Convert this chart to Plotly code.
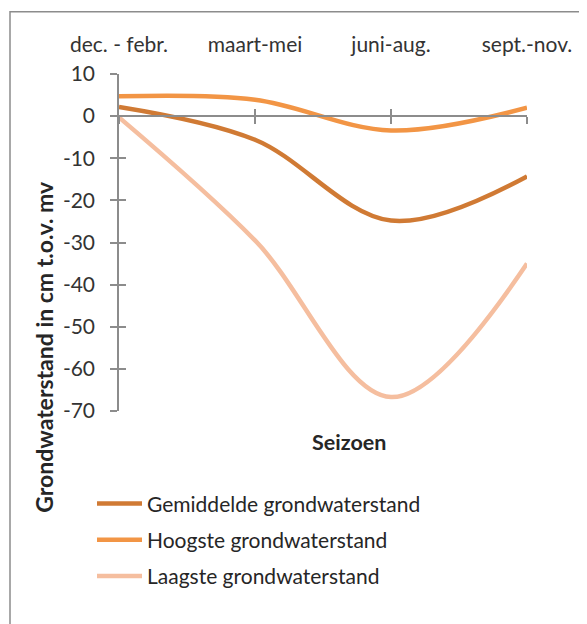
import plotly.graph_objects as go

seasons = ["dec. - febr.", "maart-mei", "juni-aug.", "sept.-nov."]
gemiddelde = [2.2, -5.6, -24.8, -14.3]
hoogste = [4.7, 3.9, -3.4, 2.0]
laagste = [-0.3, -29.5, -66.7, -35.0]
series_names = ["Gemiddelde grondwaterstand", "Hoogste grondwaterstand", "Laagste grondwaterstand"]
series_colors = ["#D07A34", "#F29545", "#F5BE9F"]
y_ticks = [10, 0, -10, -20, -30, -40, -50, -60, -70]
y_ticktext = ["10", "0", "-10", "-20", "-30", "-40", "-50", "-60", "-70"]

OFF = 8  # page body margin
W, H = 587 - OFF, 624 - OFF
L, R, T, B = 119 - OFF, 60, 73.5 - OFF, 212.5
pw, ph = W - L - R, H - T - B
FONT = "Lato"
AX = "#8C8C8C"

def px_x(x):
    return (x - OFF - L) / pw

def px_y(y):
    return (H - B - (y - OFF)) / ph

fig = go.Figure()
for i, (name, vals, col) in enumerate(zip(series_names, [gemiddelde, hoogste, laagste], series_colors)):
    fig.add_trace(go.Scatter(
        x=seasons, y=vals, name=name, mode="lines",
        line=dict(color=col, width=4.5, shape="spline", smoothing=1.0),
        cliponaxis=False, legendgroup=f"g{i}",
    ))

for xa, ya in [("x2", "y"), ("x3", "y"), ("x", "y2")]:
    fig.add_trace(go.Scatter(x=seasons, y=[None] * 4, xaxis=xa, yaxis=ya,
                             showlegend=False, hoverinfo="skip"))

zero_pos = (0 - (-70)) / 80

fig.update_layout(
    width=W, height=H,
    margin=dict(l=L, r=R, t=T, b=B),
    paper_bgcolor="white", plot_bgcolor="white",
    font=dict(family=FONT, size=21, color="#333333"),
    showlegend=True,
    legend=dict(x=px_x(92), y=px_y(484), xanchor="left", yanchor="top",
                font=dict(size=21, color="#262626"), tracegroupgap=6,
                itemwidth=45, bgcolor="rgba(0,0,0,0)"),
    xaxis=dict(type="category", categoryarray=seasons, range=[0, 3], side="top",
               showline=False, ticks="", showgrid=False, zeroline=False,
               ticklabelstandoff=17, tickfont=dict(size=21, color="#333333")),
    xaxis2=dict(type="category", categoryarray=seasons, range=[0, 3], overlaying="x",
                anchor="free", position=zero_pos, showline=True, linecolor=AX, linewidth=1.5,
                ticks="outside", ticklen=7, tickcolor=AX, tickwidth=1.5,
                showticklabels=False, showgrid=False, zeroline=False),
    xaxis3=dict(type="category", categoryarray=seasons, range=[0, 3], overlaying="x",
                anchor="free", position=zero_pos, showline=False,
                ticks="inside", ticklen=7, tickcolor=AX, tickwidth=1.5,
                showticklabels=False, showgrid=False, zeroline=False),
    yaxis=dict(range=[-70, 10], tickvals=y_ticks, ticktext=y_ticktext,
               showline=True, linecolor=AX, linewidth=1.5,
               ticks="outside", ticklen=7, tickcolor=AX, tickwidth=1.5,
               showgrid=False, zeroline=False, ticklabelstandoff=11,
               tickfont=dict(size=21, color="#333333")),
    yaxis2=dict(range=[-70, 10], tickvals=y_ticks, overlaying="y", anchor="x", side="left",
                ticks="inside", ticklen=7, tickcolor=AX, tickwidth=1.5,
                showticklabels=False, showline=False, showgrid=False, zeroline=False),
    annotations=[
        dict(text="<b>Grondwaterstand in cm t.o.v. mv</b>", xref="paper", yref="paper",
             x=px_x(44), y=px_y(347), textangle=-90, showarrow=False,
             font=dict(size=23, color="#262626"), xanchor="center", yanchor="middle"),
        dict(text="<b>Seizoen</b>", xref="paper", yref="paper",
             x=px_x(349), y=px_y(443), showarrow=False,
             font=dict(size=21.5, color="#262626"), xanchor="center", yanchor="middle"),
    ],
    shapes=[dict(type="rect", xref="paper", yref="paper",
                 x0=px_x(10), x1=px_x(640), y0=px_y(700), y1=px_y(11),
                 line=dict(color="#8C8C8C", width=1.5), layer="below")],
)

fig.write_html("out.html")
